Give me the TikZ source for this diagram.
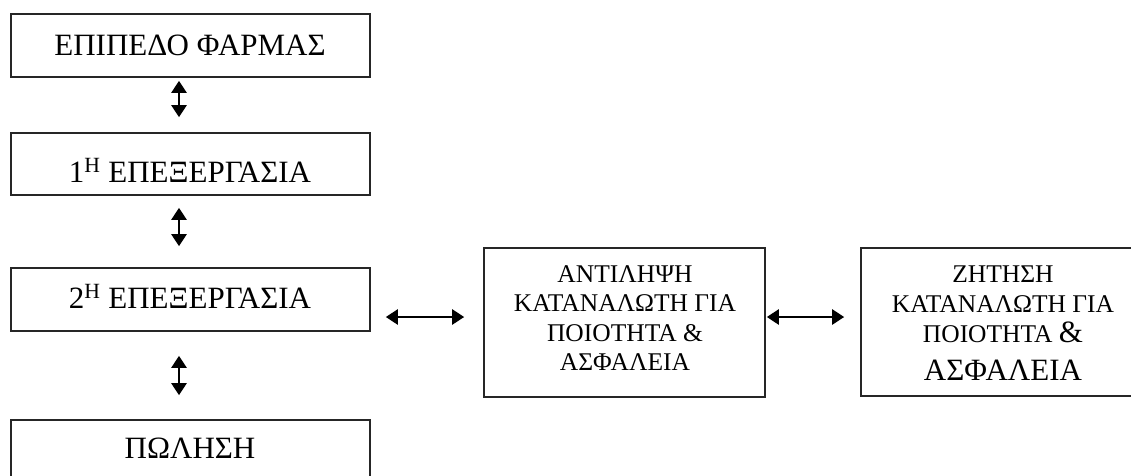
\documentclass[tikz,border=0pt]{standalone}
\usepackage{fontspec}
\setmainfont{Liberation Serif}
\usetikzlibrary{arrows.meta}
\begin{document}
\begin{tikzpicture}[x=1pt,y=-1pt,
  box/.style={draw=black!85, line width=1.6pt, inner sep=0pt},
  bigtxt/.style={font=\fontsize{31}{36}\selectfont, anchor=base, inner sep=0pt},
  smalltxt/.style={font=\fontsize{25.5}{30}\selectfont, anchor=base, inner sep=0pt},
  dbl/.style={line width=2.4pt, {Triangle[width=15pt,length=12pt]}-{Triangle[width=15pt,length=12pt]}}]
\useasboundingbox (0,0) rectangle (1131,475);
\clip (0,0) rectangle (1131,475);
% boxes
\node[box, minimum width=359pt, minimum height=63pt] (b1) at (190.5,45.5) {};
\node[box, minimum width=359pt, minimum height=62pt] (b2) at (190.5,164) {};
\node[box, minimum width=359pt, minimum height=63pt] (b3) at (190.5,299.5) {};
\node[box, minimum width=359pt, minimum height=62pt] (b4) at (190.5,451) {};
\node[box, minimum width=281pt, minimum height=149pt] (b5) at (624.5,322.5) {};
\node[box, minimum width=284pt, minimum height=148pt] (b6) at (1003,322) {};
% texts
\node[bigtxt] (t1) at (190,55) {ΕΠΙΠΕΔΟ ΦΑΡΜΑΣ};
\node[bigtxt] (t2) at (190,182) {1\textsuperscript{Η} ΕΠΕΞΕΡΓΑΣΙΑ};
\node[bigtxt] (t3) at (190,308) {2\textsuperscript{Η} ΕΠΕΞΕΡΓΑΣΙΑ};
\node[bigtxt] (t4) at (190,458) {ΠΩΛΗΣΗ};
\node[smalltxt] (t5a) at (625,282) {ΑΝΤΙΛΗΨΗ};
\node[smalltxt] (t5b) at (625,311.5) {ΚΑΤΑΝΑΛΩΤΗ ΓΙΑ};
\node[smalltxt] (t5c) at (625,341) {ΠΟΙΟΤΗΤΑ \&};
\node[smalltxt] (t5d) at (625,370) {ΑΣΦΑΛΕΙΑ};
\node[smalltxt] (t6a) at (1003,282) {ΖΗΤΗΣΗ};
\node[smalltxt] (t6b) at (1003,312) {ΚΑΤΑΝΑΛΩΤΗ ΓΙΑ};
\node[smalltxt] (t6c) at (1003,342) {ΠΟΙΟΤΗΤΑ {\fontsize{31}{36}\selectfont\&}};
\node[bigtxt] (t6d) at (1003,380) {ΑΣΦΑΛΕΙΑ};
% helper coordinates
\coordinate (ax) at (179,0);
\coordinate (ay) at (0,317);
% connectors
\draw[dbl, shorten <=3pt, shorten >=15pt] (b1.south -| ax) -- (b2.north -| ax);
\draw[dbl, shorten <=12pt, shorten >=21pt] (b2.south -| ax) -- (b3.north -| ax);
\draw[dbl, shorten <=24pt, shorten >=24pt] (b3.south -| ax) -- (b4.north -| ax);
\draw[dbl, shorten <=15pt, shorten >=19pt] (b3.east |- ay) -- (b5.west |- ay);
\draw[dbl, shorten <=1pt, shorten >=16pt] (b5.east |- ay) -- (b6.west |- ay);
\end{tikzpicture}
\end{document}
